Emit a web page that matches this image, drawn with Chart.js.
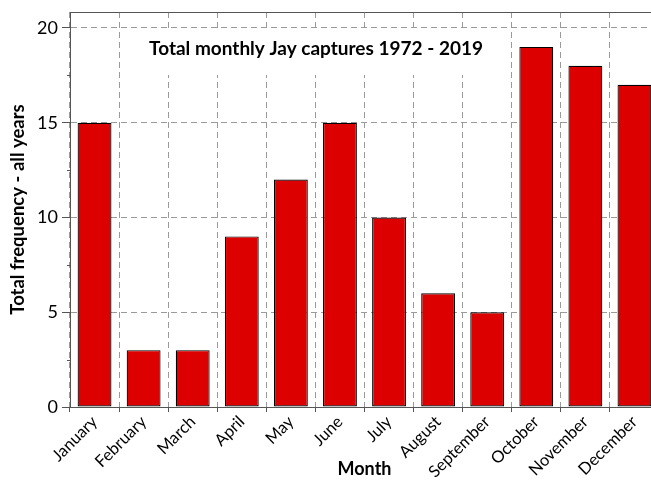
<!DOCTYPE html>
<html>
<head>
<meta charset="utf-8">
<script src="https://cdn.jsdelivr.net/npm/chart.js@4/dist/chart.umd.min.js"></script>
<style>
    html, body { margin: 0; padding: 0; background: #fff; overflow: hidden; width: 651px; height: 480px; }
    canvas { display: block; }
</style>
</head>
<body>
<canvas id="chart" width="659" height="480"></canvas>
<script>
const months = ['January', 'February', 'March', 'April', 'May', 'June', 'July',
    'August', 'September', 'October', 'November', 'December'];
const captures = [15, 3, 3, 9, 12, 15, 10, 6, 5, 19, 18, 17];
const yTicks = [0, 5, 10, 15, 20];
const minorTicks = [2.5, 7.5, 12.5, 17.5];
const chartTitle = 'Total monthly Jay captures 1972 - 2019';

const FONT = 'Lato, "Open Sans", sans-serif';
const GRID = '#9a9a9a';
const AXIS = '#555';

// white box with the title, drawn over the grid but under the bars
const titleBox = {
    id: 'titleBox',
    beforeDatasetsDraw(chart) {
        const ctx = chart.ctx;
        const area = chart.chartArea;
        const cx = area.left + 246;
        ctx.save();
        ctx.fillStyle = '#fff';
        ctx.fillRect(cx - 190, area.top + 19, 380, 44);
        ctx.fillStyle = '#000';
        ctx.font = 'bold 19px ' + FONT;
        ctx.textAlign = 'center';
        ctx.textBaseline = 'middle';
        ctx.fillText(chartTitle, cx, area.top + 37);
        ctx.restore();
    },
    afterDraw(chart) {
        const ctx = chart.ctx;
        const area = chart.chartArea;
        const y = chart.scales.y;
        ctx.save();
        // top frame line
        ctx.strokeStyle = AXIS;
        ctx.lineWidth = 1;
        ctx.beginPath();
        ctx.moveTo(area.left, area.top + 0.5);
        ctx.lineTo(area.right, area.top + 0.5);
        ctx.stroke();
        // minor ticks on the y axis
        minorTicks.forEach(v => {
            const py = Math.round(y.getPixelForValue(v)) + 0.5;
            ctx.beginPath();
            ctx.moveTo(area.left - 3, py);
            ctx.lineTo(area.left, py);
            ctx.stroke();
        });
        ctx.restore();
    }
};

new Chart(document.getElementById('chart'), {
    type: 'bar',
    data: {
        labels: months,
        datasets: [{
            data: captures,
            backgroundColor: '#dd0000',
            borderColor: '#000',
            borderWidth: 1.2,
            borderSkipped: false,
            categoryPercentage: 1,
            barPercentage: 0.69
        }]
    },
    options: {
        responsive: false,
        animation: false,
        layout: { padding: { top: 12, left: 0, right: 0, bottom: 0 } },
        plugins: {
            legend: { display: false },
            tooltip: { enabled: false }
        },
        scales: {
            x: {
                grid: {
                    offset: true,
                    color: GRID,
                    tickLength: 5,
                    tickColor: AXIS,
                    tickBorderDash: []
                },
                border: { color: AXIS, width: 1, dash: [6, 4] },
                ticks: {
                    color: '#000',
                    font: { family: FONT, size: 16.5 },
                    maxRotation: 45,
                    minRotation: 45,
                    padding: 0,
                    autoSkip: false
                },
                title: {
                    display: true,
                    text: 'Month',
                    color: '#000',
                    font: { family: FONT, size: 18, weight: 'bold' },
                    padding: { top: 0, bottom: 0 }
                },
                afterFit(scale) {
                    scale.height = 73;
                    scale.paddingLeft = 0;
                    scale.paddingRight = 0;
                }
            },
            y: {
                min: 0,
                max: 20.84,
                afterBuildTicks(scale) {
                    scale.ticks = yTicks.map(v => ({ value: v }));
                },
                grid: {
                    color: GRID,
                    tickLength: 8,
                    tickColor: AXIS,
                    tickBorderDash: []
                },
                border: { color: AXIS, width: 1, dash: [6, 4] },
                ticks: {
                    color: '#000',
                    font: { family: FONT, size: 18 },
                    padding: 4
                },
                title: {
                    display: true,
                    text: 'Total frequency - all years',
                    color: '#000',
                    font: { family: FONT, size: 18.5, weight: 'bold' },
                    padding: { top: 7, bottom: 0 }
                },
                afterFit(scale) {
                    scale.width = 70;
                    scale.paddingTop = 0;
                    scale.paddingBottom = 0;
                }
            }
        }
    },
    plugins: [titleBox]
});
</script>
</body>
</html>
